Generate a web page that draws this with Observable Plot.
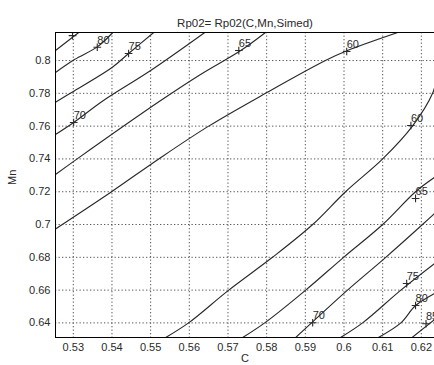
<!DOCTYPE html>
<html>
<head>
<meta charset="utf-8">
<script src="https://cdn.jsdelivr.net/npm/d3@7"></script>
<script src="https://cdn.jsdelivr.net/npm/@observablehq/plot@0.6"></script>
<style>
  body { margin: 0; background: #fff; }
  #chart svg { display: block; }
</style>
</head>
<body>
<div id="chart"></div>
<script>
// Axis ticks and extents (C on x, Mn on y)
const cTicks = [0.53, 0.54, 0.55, 0.56, 0.57, 0.58, 0.59, 0.6, 0.61, 0.62];
const mnTicks = [0.64, 0.66, 0.68, 0.7, 0.72, 0.74, 0.76, 0.78, 0.8];
const cDomain = [0.5254, 0.6234];
const mnDomain = [0.6311, 0.8171];

// Iso-lines of Rp02 over (C, Mn): each is a list of [C, Mn] points
const rp85upper = [[0.5254, 0.8061], [0.5314, 0.8171]];
const rp80upper = [[0.5254, 0.7927], [0.5303, 0.8006], [0.5363, 0.8085], [0.5402, 0.8171]];
const rp75upper = [[0.5254, 0.7746], [0.5297, 0.7807], [0.5401, 0.7959], [0.5443, 0.8043], [0.5508, 0.8171]];
const rp70upper = [[0.5254, 0.7549], [0.5301, 0.7622], [0.5378, 0.7756], [0.5500, 0.7939], [0.5640, 0.8171]];
const rp65upper = [[0.5254, 0.7305], [0.5311, 0.7402], [0.5526, 0.7756], [0.5629, 0.7915], [0.5733, 0.8061], [0.5797, 0.8171]];
const rp60upper = [[0.5254, 0.6973], [0.5399, 0.72], [0.5521, 0.74], [0.5650, 0.76], [0.5797, 0.78], [0.5952, 0.80], [0.6009, 0.8061], [0.6139, 0.8171]];
const rp60lower = [[0.5539, 0.6311], [0.5598, 0.64], [0.5702, 0.66], [0.5815, 0.68], [0.5919, 0.70], [0.6004, 0.72], [0.6100, 0.74], [0.6177, 0.76], [0.6229, 0.78], [0.6240, 0.79]];
const rp65lower = [[0.5738, 0.6311], [0.5795, 0.64], [0.5901, 0.66], [0.5999, 0.68], [0.6100, 0.70], [0.6185, 0.72], [0.6234, 0.7287]];
const rp70lower = [[0.5875, 0.6311], [0.5916, 0.64], [0.6009, 0.66], [0.6108, 0.68], [0.6203, 0.70], [0.6234, 0.7067]];
const rp75lower = [[0.5991, 0.6311], [0.6048, 0.64], [0.6147, 0.66], [0.6234, 0.6762]];
const rp80lower = [[0.6089, 0.6311], [0.6147, 0.64], [0.6185, 0.6506], [0.6234, 0.6579]];
const rp85lower = [[0.6176, 0.6311], [0.6234, 0.6420]];

const isoLines = [
  rp85upper, rp80upper, rp75upper, rp70upper, rp65upper, rp60upper,
  rp60lower, rp65lower, rp70lower, rp75lower, rp80lower, rp85lower
];

// clabel-style annotations: level and the point on its line
const labelLevels = [85, 80, 75, 70, 65, 60, 60, 65, 70, 75, 80, 85];
const labelC  = [0.5298, 0.5362, 0.5443, 0.5301, 0.5728, 0.6007, 0.6173, 0.6185, 0.5919, 0.6162, 0.6185, 0.6212];
const labelMn = [0.8152, 0.8081, 0.8043, 0.7622, 0.8061, 0.8055, 0.7604, 0.7159, 0.6401, 0.6640, 0.6506, 0.6395];

const titleText = "Rp02= Rp02(C,Mn,Simed)";
const xLabel = "C";
const yLabel = "Mn";

const lineRows = isoLines.flatMap((pts, i) => pts.map(([C, Mn]) => ({C, Mn, id: i})));
const labelRows = labelLevels.map((level, i) => ({level, C: labelC[i], Mn: labelMn[i]}));

const font = "Liberation Sans, Arial, sans-serif";
const ink = "#2a2a2a";

const chart = Plot.plot({
  width: 434,
  height: 365,
  marginLeft: 55,
  marginRight: 0,
  marginTop: 32,
  marginBottom: 28,
  style: {fontFamily: font, fontSize: "11px", color: ink, background: "#fff"},
  x: {domain: cDomain},
  y: {domain: mnDomain},
  marks: [
    Plot.gridX(cTicks, {stroke: "#444", strokeOpacity: 0.9, strokeDasharray: "1.3,2.2"}),
    Plot.gridY(mnTicks, {stroke: "#444", strokeOpacity: 0.9, strokeDasharray: "1.3,2.2"}),
    Plot.line(lineRows, {x: "C", y: "Mn", z: "id", stroke: ink, strokeWidth: 1.15, curve: "catmull-rom", clip: true}),
    Plot.dot(labelRows, {x: "C", y: "Mn", symbol: "plus", r: 2.6, stroke: ink, strokeWidth: 1.1, clip: true}),
    Plot.text(labelRows, {x: "C", y: "Mn", text: d => String(d.level), textAnchor: "start", dx: 0, dy: -7,
      fontSize: 11, fill: ink, clip: true}),
    Plot.ruleX([cDomain[0]], {stroke: "#000", strokeWidth: 1}),
    Plot.ruleY([mnDomain[0], mnDomain[1]], {stroke: "#000", strokeWidth: 1}),
    Plot.axisX(cTicks, {tickSize: 0, tickPadding: 6, tickFormat: d => String(d), label: null, fontSize: 11}),
    Plot.axisY(mnTicks, {tickSize: 0, tickPadding: 5, tickFormat: d => String(d), label: null, fontSize: 11}),
    Plot.text([titleText], {frameAnchor: "top", dy: -14, fontSize: 11.5, fill: ink}),
    Plot.text([xLabel], {frameAnchor: "bottom", dy: 24, fontSize: 11, fill: ink}),
    Plot.text([yLabel], {frameAnchor: "left", dx: -43, rotate: -90, fontSize: 11, fill: ink})
  ]
});

document.getElementById("chart").appendChild(chart);
</script>
</body>
</html>
